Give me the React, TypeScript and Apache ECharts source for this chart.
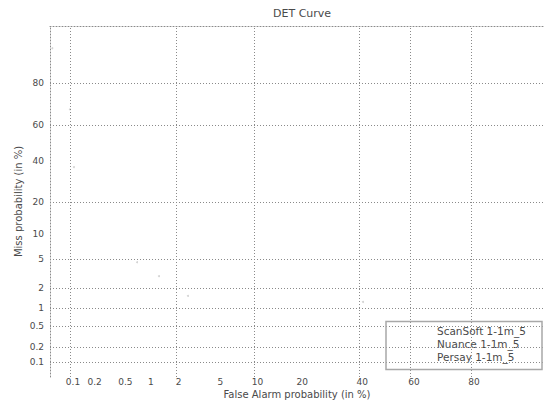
import React, { useEffect, useRef } from "react";
import * as echarts from "echarts";

// Tick labels (percent)
const xTickLabels = [0.1, 0.2, 0.5, 1, 2, 5, 10, 20, 40, 60, 80];
const yTickLabels = [0.1, 0.2, 0.5, 1, 2, 5, 10, 20, 40, 60, 80];
// Grid lines visible in the reference (percent)
const xGridLines = [0.1, 2, 10, 40, 60, 80];
const yGridLines = [0.1, 0.2, 0.5, 1, 2, 5, 20, 60, 80];

const seriesNames = ["ScanSoft 1-1m_5", "Nuance 1-1m_5", "Persay 1-1m_5"];
// faint points [false alarm %, miss %]
const scanSoftPts = [
  [0.055, 90.8],
  [0.1, 68],
  [0.114, 36.5],
];
const nuancePts = [
  [0.75, 4.6],
  [1.33, 3.0],
  [2.66, 1.54],
];
const persayPts = [[41.4, 1.24]];

// inverse standard normal CDF (Acklam)
function probit(p: number): number {
  const a = [-3.969683028665376e1, 2.209460984245205e2, -2.759285104469687e2, 1.38357751867269e2, -3.066479806614716e1, 2.506628277459239];
  const b = [-5.447609879822406e1, 1.615858368580409e2, -1.556989798598866e2, 6.680131188771972e1, -1.328068155288572e1];
  const c = [-7.784894002430293e-3, -3.223964580411365e-1, -2.400758277161838, -2.549732539343734, 4.374664141464968, 2.938163982698783];
  const d = [7.784695709041462e-3, 3.224671290700398e-1, 2.445134137142996, 3.754408661907416];
  const pl = 0.02425;
  let q, r;
  if (p < pl) {
    q = Math.sqrt(-2 * Math.log(p));
    return (((((c[0] * q + c[1]) * q + c[2]) * q + c[3]) * q + c[4]) * q + c[5]) / ((((d[0] * q + d[1]) * q + d[2]) * q + d[3]) * q + 1);
  }
  if (p <= 1 - pl) {
    q = p - 0.5;
    r = q * q;
    return ((((((a[0] * r + a[1]) * r + a[2]) * r + a[3]) * r + a[4]) * r + a[5]) * q) / (((((b[0] * r + b[1]) * r + b[2]) * r + b[3]) * r + b[4]) * r + 1);
  }
  q = Math.sqrt(-2 * Math.log(1 - p));
  return -(((((c[0] * q + c[1]) * q + c[2]) * q + c[3]) * q + c[4]) * q + c[5]) / ((((d[0] * q + d[1]) * q + d[2]) * q + d[3]) * q + 1);
}
const pz = (pct: number) => probit(pct / 100);

const X_MIN = -3.286;
const X_MAX = 1.557;
const Y_MIN = -3.301;
const Y_MAX = 1.642;

const FONT = "DejaVu Sans";
const TEXT = "#4a4a4a";
const GRID_STYLE = { color: "#8a8a8a", width: 1, type: [1, 2] as any };

function fmt(list: number[]) {
  const vals = list.map(pz);
  return (v: number) => {
    let best = 0;
    for (let i = 1; i < vals.length; i++) if (Math.abs(vals[i] - v) < Math.abs(vals[best] - v)) best = i;
    return String(list[best]);
  };
}

export default function App() {
  const ref = useRef<HTMLDivElement>(null);
  useEffect(() => {
    document.body.style.margin = "0";
    const chart = echarts.init(ref.current!, undefined, { renderer: "svg" });
    const mk = (pts: number[][]) => pts.map(([x, y]) => [pz(x), pz(y)]);
    const markData: any[] = [
      ...xGridLines.map((v) => ({ xAxis: pz(v) })),
      ...yGridLines.map((v) => ({ yAxis: pz(v) })),
    ];
    const dotStyle = { color: "#c8c8c8" };
    chart.setOption({
      animation: false,
      title: {
        text: "DET Curve",
        left: 273,
        top: 8,
        padding: 0,
        textStyle: { fontFamily: FONT, fontSize: 11, fontWeight: "normal", color: TEXT },
      },
      legend: {
        data: seriesNames.map((n) => ({ name: n, icon: "none" })),
        orient: "vertical",
        left: 432,
        top: 324,
        itemWidth: 0,
        itemHeight: 13,
        itemGap: 1,
        padding: 0,
        selectedMode: false,
        textStyle: { fontFamily: FONT, fontSize: 10.5, color: TEXT },
      },
      graphic: [
        {
          type: "rect",
          shape: { x: 386, y: 321.5, width: 156, height: 48 },
          style: { fill: "none", stroke: "#a8a8a8", lineWidth: 1.5 },
          z: 10,
        },
      ],
      grid: { left: 50, top: 26, right: 0, bottom: 24, containLabel: false, outerBoundsMode: "none" },
      xAxis: [
        {
          type: "value",
          min: X_MIN,
          max: X_MAX,
          position: "bottom",
          axisLine: { show: false, onZero: false },
          axisTick: { show: false },
          splitLine: { show: false },
          axisLabel: {
            customValues: xTickLabels.map(pz),
            formatter: fmt(xTickLabels),
            margin: 0,
            padding: [0, 0, 0, 6],
            fontFamily: FONT,
            fontSize: 9,
            lineHeight: 10,
            color: TEXT,
            showMinLabel: true,
            showMaxLabel: true,
          },
          name: "False Alarm probability (in %)",
          nameLocation: "middle",
          nameGap: 11,
          nameMoveOverlap: false,
          nameTextStyle: { fontFamily: FONT, fontSize: 10, lineHeight: 12, color: TEXT },
        },
        {
          type: "value",
          min: X_MIN,
          max: X_MAX,
          position: "top",
          axisLine: { show: true, onZero: false, lineStyle: GRID_STYLE },
          axisTick: { show: false },
          splitLine: { show: false },
          axisLabel: { show: false },
        },
      ],
      yAxis: {
        type: "value",
        min: Y_MIN,
        max: Y_MAX,
        axisLine: { show: true, onZero: false, lineStyle: GRID_STYLE },
        axisTick: { show: false },
        splitLine: { show: false },
        axisLabel: {
          customValues: yTickLabels.map(pz),
          formatter: fmt(yTickLabels),
          margin: 6,
          fontFamily: FONT,
          fontSize: 9,
          color: TEXT,
        },
        name: "Miss probability (in %)",
        nameLocation: "middle",
        nameGap: 27,
        nameMoveOverlap: false,
        nameTextStyle: { fontFamily: FONT, fontSize: 10, color: TEXT },
      },
      series: [
        {
          name: seriesNames[0],
          type: "scatter",
          symbolSize: 2,
          itemStyle: dotStyle,
          data: mk(scanSoftPts),
          markLine: {
            silent: true,
            symbol: "none",
            label: { show: false },
            lineStyle: GRID_STYLE,
            data: markData,
          },
        },
        { name: seriesNames[1], type: "scatter", symbolSize: 2, itemStyle: dotStyle, data: mk(nuancePts) },
        { name: seriesNames[2], type: "scatter", symbolSize: 2, itemStyle: dotStyle, data: mk(persayPts) },
      ],
    });
    return () => chart.dispose();
  }, []);
  return <div ref={ref} style={{ width: 544, height: 401 }} />;
}
